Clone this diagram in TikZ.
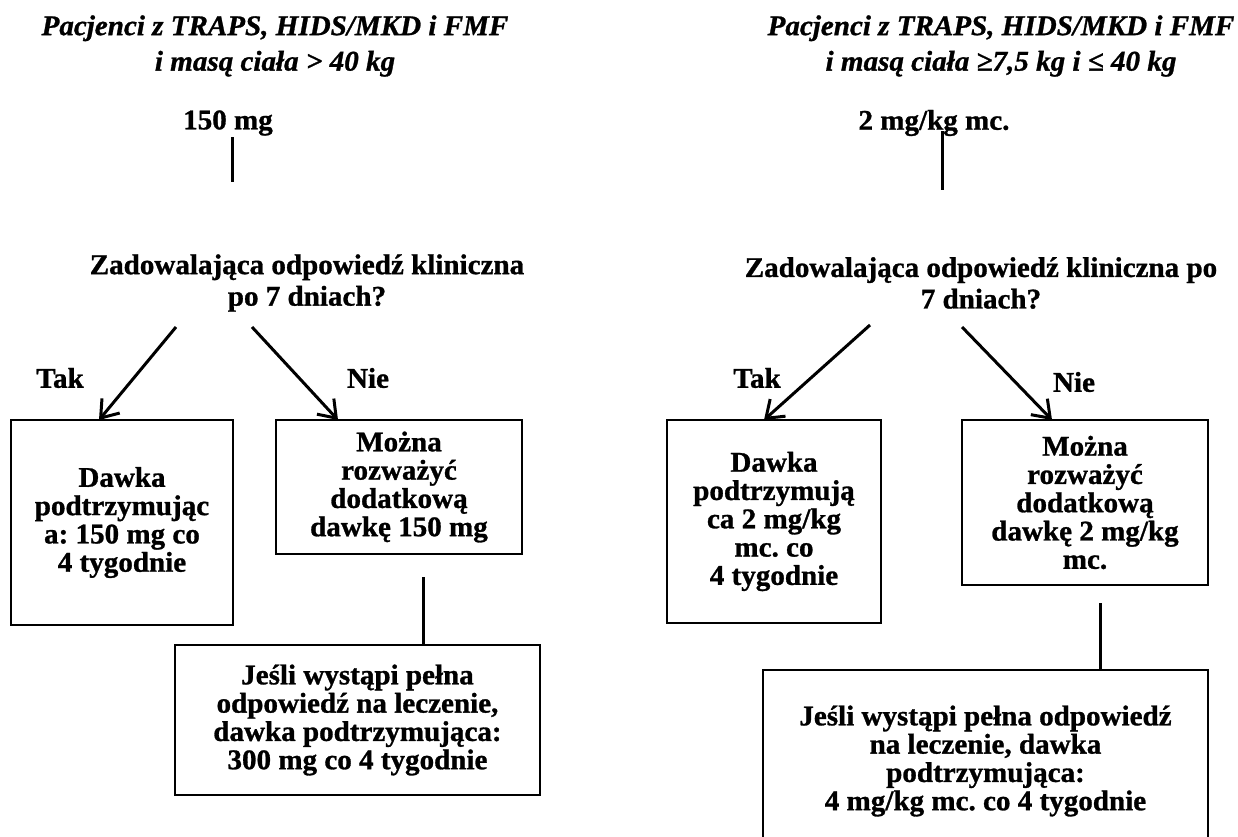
\documentclass[tikz,border=0pt]{standalone}
\usepackage{fontspec}
\setmainfont{Liberation Serif}[FakeStretch=1.02, BoldFeatures={FakeBold=1}, BoldItalicFeatures={FakeBold=1}]
\usetikzlibrary{arrows.meta}
\frenchspacing
\tikzset{
  txt/.style={font=\fontsize{28.5}{28.3}\selectfont\bfseries\frenchspacing, align=center, inner sep=0pt},
  qst/.style={font=\fontsize{28.5}{31.5}\selectfont\bfseries\frenchspacing, align=center, inner sep=0pt},
  ttl/.style={font=\fontsize{28.5}{35.5}\selectfont\bfseries\itshape\frenchspacing, align=center, inner sep=0pt},
  box/.style={txt, draw, line width=2.3pt, outer sep=0pt},
  link/.style={line width=3pt},
  arr/.style={link, -{Straight Barb[length=16pt,width=23pt]}}
}
\begin{document}
\begin{tikzpicture}[x=1pt,y=-1pt]
\useasboundingbox (0,0) rectangle (1238,836);
\clip (0,0) rectangle (1238,836);
% ---------- left panel ----------
\node[ttl] (tL) at (275,46) {Pacjenci z TRAPS, HIDS/MKD i FMF\\i masą ciała > 40 kg};
\node[txt] (dL) at (228,123) {150 mg};
\coordinate (dLa) at (232,137);
\coordinate (dLb) at (232,182);
\draw[link] (dLa) -- (dLb);
\node[qst] (qL) at (307,283) {Zadowalająca odpowiedź kliniczna\\po 7 dniach?};
\node[box, minimum width=222pt, minimum height=205pt] (bL1) at (122,522.5)
  {Dawka\\podtrzymując\\a: 150 mg co\\4 tygodnie};
\node[box, minimum width=246pt, minimum height=134pt] (bL2) at (399,487)
  {Można\\rozważyć\\dodatkową\\dawkę 150 mg};
\node[box, minimum width=365pt, minimum height=150pt] (bL3) at (357.5,720)
  {Jeśli wystąpi pełna\\odpowiedź na leczenie,\\dawka podtrzymująca:\\300 mg co 4 tygodnie};
\coordinate (aL1) at (176,327);
\coordinate (aL2) at (252,327);
\draw[arr] (aL1) -- ([xshift=88pt]bL1.north west);
\draw[arr] (aL2) -- ([xshift=62pt]bL2.north west);
\node[txt] (yL) at (60,378) {Tak};
\node[txt] (nL) at (368,378) {Nie};
\coordinate (vL) at (423,577);
\draw[link] (vL) -- (vL |- bL3.north);
% ---------- right panel ----------
\node[ttl] (tR) at (1001,46) {Pacjenci z TRAPS, HIDS/MKD i FMF\\i masą ciała ≥7,5 kg i ≤ 40 kg};
\node[txt] (dR) at (934,123) {2 mg/kg mc.};
\coordinate (dRa) at (942,131);
\coordinate (dRb) at (942,190);
\draw[link] (dRa) -- (dRb);
\node[qst] (qR) at (981,283) {Zadowalająca odpowiedź kliniczna po\\7 dniach?};
\node[box, minimum width=214pt, minimum height=203pt] (bR1) at (774,521.5)
  {Dawka\\podtrzymują\\ca 2 mg/kg\\mc. co\\4 tygodnie};
\node[box, minimum width=246pt, minimum height=165pt] (bR2) at (1085,502.5)
  {Można\\rozważyć\\dodatkową\\dawkę 2 mg/kg\\mc.};
\node[box, minimum width=445pt, minimum height=182pt] (bR3) at (985.5,761)
  {Jeśli wystąpi pełna odpowiedź\\na leczenie, dawka\\podtrzymująca:\\4 mg/kg mc. co 4 tygodnie};
\coordinate (aR1) at (870,325);
\coordinate (aR2) at (962,327);
\draw[arr] (aR1) -- ([xshift=97pt]bR1.north west);
\draw[arr] (aR2) -- ([xshift=90pt]bR2.north west);
\node[txt] (yR) at (757,378) {Tak};
\node[txt] (nR) at (1074,382) {Nie};
\coordinate (vR) at (1100,603);
\draw[link] (vR) -- (vR |- bR3.north);
\end{tikzpicture}
\end{document}
